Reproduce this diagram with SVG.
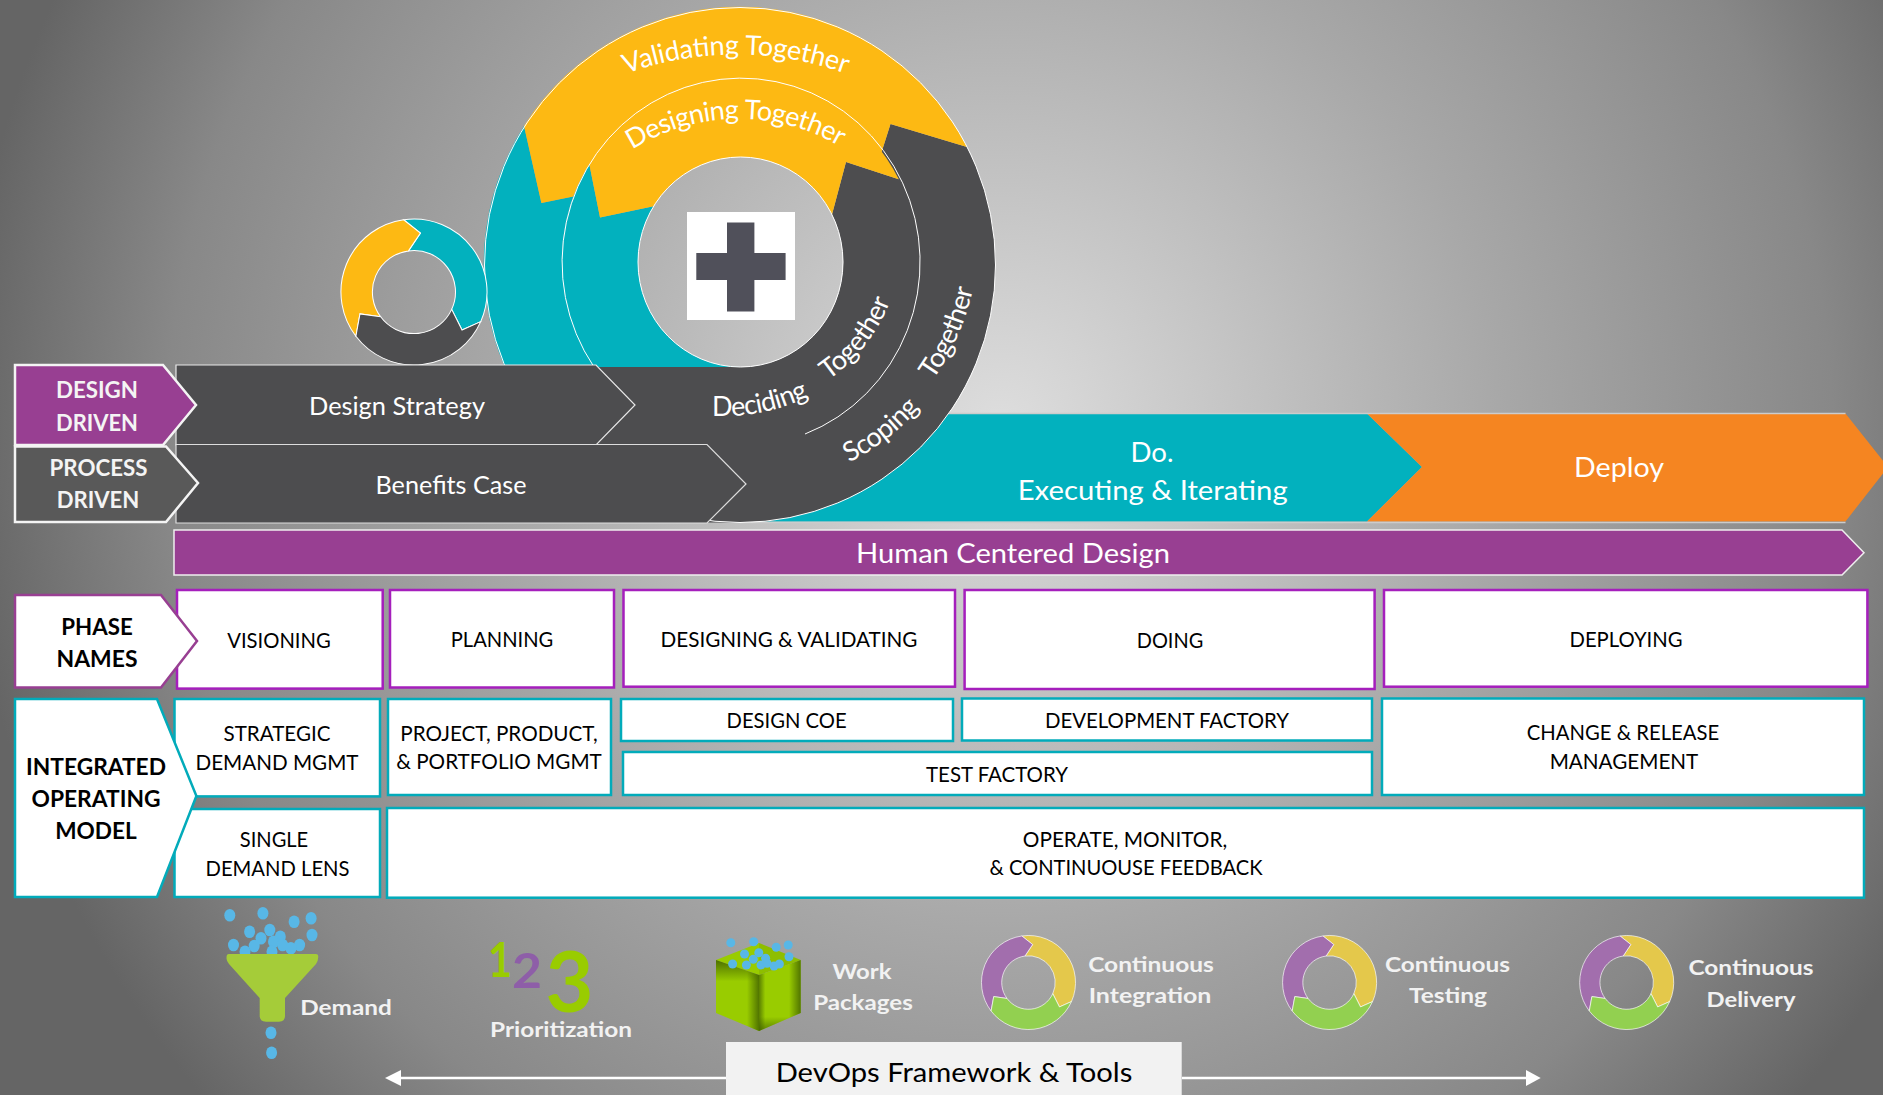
<svg xmlns="http://www.w3.org/2000/svg" width="1883" height="1095" viewBox="0 0 1883 1095">
<style>
text{font-family:Lato,"Liberation Sans",sans-serif;text-anchor:middle}
.w{fill:#fff;font-size:25px}
.wb{fill:#f4f4f4;font-size:22px;font-weight:700}
.kb{fill:#000;font-size:22px;font-weight:700}
.k{fill:#000;font-size:21px}
.big{fill:#fff;font-size:27px}
.ic{fill:#f2f2f2;font-size:21px;font-weight:700}
.arc{fill:#fff;font-size:27px}
.pb{fill:#fff;stroke:#a51fbc;stroke-width:2.5}
.tb{fill:#fff;stroke:#02abba;stroke-width:2.5}
.dark{fill:#4d4d4f}
.teal{fill:#02b1be}
.yel{fill:#fdb913}
.ln{fill:none;stroke:#fff;stroke-width:1}
.dot{fill:#58b7e6}
.och{fill:#e4c84b}
.vio{fill:#a26ead}
.grn{fill:#92d050}
.seg{stroke:#fff;stroke-width:1.4}
</style>
<defs>
<radialGradient id="bg" gradientUnits="userSpaceOnUse" cx="1000" cy="430" r="1040">
<stop offset="0" stop-color="#dedede"/><stop offset=".48" stop-color="#a8a8a8"/><stop offset=".8" stop-color="#888"/><stop offset="1" stop-color="#656565"/>
</radialGradient>
<linearGradient id="shT" x1="0" y1="0" x2="0" y2="1"><stop offset="0" stop-color="#3f5f00" stop-opacity=".85"/><stop offset=".3" stop-color="#3f5f00" stop-opacity="0"/></linearGradient>
<linearGradient id="shR" x1="0" y1="0" x2="1" y2="0"><stop offset=".72" stop-color="#3f5f00" stop-opacity="0"/><stop offset="1" stop-color="#3f5f00" stop-opacity=".8"/></linearGradient>
<linearGradient id="shL" x1="0" y1="0" x2="1" y2="0"><stop offset="0" stop-color="#3f5f00" stop-opacity=".7"/><stop offset=".15" stop-color="#3f5f00" stop-opacity="0"/></linearGradient>
<linearGradient id="shB" x1="0" y1="0" x2="0" y2="1"><stop offset=".8" stop-color="#3f5f00" stop-opacity="0"/><stop offset="1" stop-color="#3f5f00" stop-opacity=".7"/></linearGradient>
<path id="sr" d="M-14.2-99A100 100 0 0 1 91.4 40.6L65.8 52 51.6 23.8A56.8 56.8 0 0 0-7.6-56.3L8.8-80.8Z"/>
<path id="sl" d="M-14.2-99A100 100 0 0 0-79.6 60.6L-74 30-45.7 34A56.8 56.8 0 0 1-7.6-56.3L8.8-80.8Z"/>
<path id="sb" d="M-79.6 60.6A100 100 0 0 0 91.4 40.6L65.8 52 51.6 23.8A56.8 56.8 0 0 1-45.7 34L-74 30Z"/>
<path id="p1" d="M615 78A323 323 0 0 1 857 78"/>
<path id="p2" d="M620 158A200 200 0 0 1 852 154"/>
<path id="p3" d="M711 416A200 200 0 0 0 810 396"/>
<path id="p4" d="M824 383A170 170 0 0 0 892 296"/>
<path id="p5" d="M846 464A230 230 0 0 0 922 405"/>
<path id="p6" d="M930 384A250 250 0 0 0 974 284"/>
</defs>
<rect width="1883" height="1095" fill="url(#bg)"/>

<g id="do-deploy">
<path d="M800 413.5H1367L1422 467 1367 521.5H760Z" class="teal"/>
<path d="M1367 413.500H1845.500L1888 467 1845.500 521.500H1367L1422 467Z" fill="#f58521"/>
<path d="M800 413.500H1845.500M740 522.500H1845.500" fill="none" stroke="#ccc" stroke-width="1.5"/>
<text class="big" x="1152" y="461.7" textLength="43" lengthAdjust="spacingAndGlyphs">Do.</text>
<text class="big" x="1152.7" y="500" textLength="270" lengthAdjust="spacingAndGlyphs">Executing &amp; Iterating</text>
<text class="big" x="1619" y="477" textLength="90" lengthAdjust="spacingAndGlyphs">Deploy</text>
</g>

<g id="spiral">
<path class="teal" d="M524 126A255.500 257.500 0 0 0 504.300 366H594A179 184 0 0 1 573.200 196.500L541.400 203Z"/>
<path class="teal" d="M589.200 163.800A179 184 0 0 0 594 367H740.500A102.500 105 0 0 1 653.600 206.300L600 217.600Z"/>
<path class="dark" d="M881.500 152.300L890.500 124 967 147A255.500 257.500 0 0 1 740 522.500H600L594 367H740.500A102.500 105 0 0 0 832 214.500L846 162 898.700 179.200Z"/>
<path class="yel" d="M524 126A255.500 257.500 0 0 1 967 147L890.500 124 881.500 152.300A179 184 0 0 0 573.200 196.500L541.400 203Z"/>
<path class="yel" d="M589.200 163.800A179 184 0 0 1 898.700 179.200L846 162 832 214.500A102.500 105 0 0 0 653.600 206.300L600 217.600Z"/>
<ellipse class="ln" cx="740" cy="265" rx="255.500" ry="257.500"/>
<path class="ln" d="M594 367A179 184 0 1 1 805 434"/>
<ellipse class="ln" cx="740.500" cy="262" rx="102.500" ry="105"/>
<rect x="687" y="212" width="108" height="108" fill="#fff"/>
<path d="M727 222.500H754.400V253H785.600V280H754.400V311.600H727V280H696.300V253H727Z" fill="#50505a"/>
<text class="arc"><textPath href="#p1" startOffset="50%" textLength="224">Validating Together</textPath></text>
<text class="arc"><textPath href="#p2" startOffset="50%" textLength="218">Designing Together</textPath></text>
<text class="arc"><textPath href="#p3" startOffset="50%" textLength="100">Deciding</textPath></text>
<text class="arc"><textPath href="#p4" startOffset="50%" textLength="102">Together</textPath></text>
<text class="arc"><textPath href="#p5" startOffset="50%" textLength="90">Scoping</textPath></text>
<text class="arc"><textPath href="#p6" startOffset="50%" textLength="100">Together</textPath></text>
</g>

<g id="small-cycle" transform="translate(414 292) scale(.73)">
<use href="#sr" class="teal seg"/><use href="#sl" class="yel seg"/><use href="#sb" class="dark seg"/>
</g>

<g id="design-strategy">
<path class="dark" stroke="#e8e8e8" stroke-width="1.2" d="M176 365H596L635 405 596 445H176Z"/>
<text class="w" x="397" y="415" textLength="176" lengthAdjust="spacingAndGlyphs">Design Strategy</text>
</g>
<g id="benefits-case">
<path class="dark" stroke="#ddd" stroke-width="1.2" d="M176 444.500H707L746 484 707 523H176Z"/>
<text class="w" x="451" y="493.6" textLength="151" lengthAdjust="spacingAndGlyphs">Benefits Case</text>
</g>

<g id="design-driven">
<path fill="#983f92" stroke="#f4f4f4" stroke-width="2.5" d="M15 365H163L196 405 163 445H15Z"/>
<text class="wb" x="97" y="398" textLength="82" lengthAdjust="spacingAndGlyphs">DESIGN</text>
<text class="wb" x="97" y="430.7" textLength="82" lengthAdjust="spacingAndGlyphs">DRIVEN</text>
</g>
<g id="process-driven">
<path fill="#595959" stroke="#f4f4f4" stroke-width="2.5" d="M15 446.500H166L198 483 166 522H15Z"/>
<text class="wb" x="98.5" y="475.7" textLength="98" lengthAdjust="spacingAndGlyphs">PROCESS</text>
<text class="wb" x="98" y="507.5" textLength="82.6" lengthAdjust="spacingAndGlyphs">DRIVEN</text>
</g>

<g id="human-centered">
<path fill="#983f92" stroke="#eee" stroke-width="1.5" d="M174 530H1842L1864 552.700 1842 575H174Z"/>
<text class="big" x="1013" y="563" textLength="314" lengthAdjust="spacingAndGlyphs">Human Centered Design</text>
</g>

<g id="visioning"><rect class="pb" x="177" y="590" width="205.700" height="98.600"/><text class="k" x="279" y="648" textLength="103.600" lengthAdjust="spacingAndGlyphs">VISIONING</text></g>
<g id="planning"><rect class="pb" x="390" y="590" width="224" height="97.500"/><text class="k" x="502" y="647" textLength="102.500" lengthAdjust="spacingAndGlyphs">PLANNING</text></g>
<g id="designing"><rect class="pb" x="623.500" y="590" width="331.500" height="96.700"/><text class="k" x="789" y="647" textLength="257" lengthAdjust="spacingAndGlyphs">DESIGNING &amp; VALIDATING</text></g>
<g id="doing"><rect class="pb" x="964.600" y="590" width="410" height="99"/><text class="k" x="1170" y="648" textLength="66.500" lengthAdjust="spacingAndGlyphs">DOING</text></g>
<g id="deploying"><rect class="pb" x="1384" y="590" width="483.400" height="96.700"/><text class="k" x="1626" y="647" textLength="113" lengthAdjust="spacingAndGlyphs">DEPLOYING</text></g>

<g id="phase-names">
<path fill="#fff" stroke="#983f92" stroke-width="2.5" d="M15 595H161L197 641 161 687.500H15Z"/>
<text class="kb" x="97" y="634.6" textLength="71.400" lengthAdjust="spacingAndGlyphs">PHASE</text>
<text class="kb" x="97" y="666.8" textLength="81" lengthAdjust="spacingAndGlyphs">NAMES</text>
</g>

<g id="strategic"><rect class="tb" x="174.500" y="699" width="205.500" height="97.400"/><text class="k" x="277" y="741" textLength="107" lengthAdjust="spacingAndGlyphs">STRATEGIC</text><text class="k" x="277" y="770" textLength="163" lengthAdjust="spacingAndGlyphs">DEMAND MGMT</text></g>
<g id="single"><rect class="tb" x="174.500" y="809" width="205.500" height="88"/><text class="k" x="274" y="846.8" textLength="68.400" lengthAdjust="spacingAndGlyphs">SINGLE</text><text class="k" x="277.500" y="876" textLength="144" lengthAdjust="spacingAndGlyphs">DEMAND LENS</text></g>
<g id="project"><rect class="tb" x="388" y="699" width="223" height="96"/><text class="k" x="499" y="741" textLength="197.500" lengthAdjust="spacingAndGlyphs">PROJECT, PRODUCT,</text><text class="k" x="499" y="769" textLength="205.600" lengthAdjust="spacingAndGlyphs">&amp; PORTFOLIO MGMT</text></g>
<g id="design-coe"><rect class="tb" x="621" y="699" width="332" height="42"/><text class="k" x="786.6" y="728" textLength="120" lengthAdjust="spacingAndGlyphs">DESIGN COE</text></g>
<g id="dev-factory"><rect class="tb" x="962" y="698.500" width="410" height="42"/><text class="k" x="1167" y="727.7" textLength="244" lengthAdjust="spacingAndGlyphs">DEVELOPMENT FACTORY</text></g>
<g id="test-factory"><rect class="tb" x="623" y="752" width="749" height="43"/><text class="k" x="997" y="781.7" textLength="142" lengthAdjust="spacingAndGlyphs">TEST FACTORY</text></g>
<g id="change"><rect class="tb" x="1382" y="698.500" width="482" height="96.500"/><text class="k" x="1623" y="740" textLength="192.500" lengthAdjust="spacingAndGlyphs">CHANGE &amp; RELEASE</text><text class="k" x="1624" y="769" textLength="148.600" lengthAdjust="spacingAndGlyphs">MANAGEMENT</text></g>
<g id="operate"><rect class="tb" x="387" y="808" width="1477" height="89.700"/><text class="k" x="1125" y="847" textLength="204.400" lengthAdjust="spacingAndGlyphs">OPERATE, MONITOR,</text><text class="k" x="1126" y="875" textLength="273" lengthAdjust="spacingAndGlyphs">&amp; CONTINUOUSE FEEDBACK</text></g>

<g id="integrated-model">
<path fill="#fff" stroke="#02abba" stroke-width="2.5" d="M15 699H157L196.400 796 157 897H15Z"/>
<text class="kb" x="96" y="774.6" textLength="140" lengthAdjust="spacingAndGlyphs">INTEGRATED</text>
<text class="kb" x="96" y="806.8" textLength="129" lengthAdjust="spacingAndGlyphs">OPERATING</text>
<text class="kb" x="96" y="839" textLength="81.600" lengthAdjust="spacingAndGlyphs">MODEL</text>
</g>

<g id="demand">
<g class="dot">
<ellipse cx="229.800" cy="915.300" rx="5.500" ry="6.300"/><ellipse cx="262.900" cy="913.300" rx="5.500" ry="6.300"/><ellipse cx="294.100" cy="921.700" rx="5.500" ry="6.300"/><ellipse cx="311.100" cy="918.300" rx="5.500" ry="6.300"/><ellipse cx="312" cy="935" rx="5.500" ry="6.300"/><ellipse cx="249.600" cy="931.700" rx="5.500" ry="6.300"/><ellipse cx="269.800" cy="930" rx="5.500" ry="6.300"/><ellipse cx="261" cy="938.300" rx="5.500" ry="6.300"/><ellipse cx="280.300" cy="936.700" rx="5.500" ry="6.300"/><ellipse cx="233.500" cy="945" rx="5.500" ry="6.300"/><ellipse cx="254.200" cy="946" rx="5.500" ry="6.300"/><ellipse cx="273.500" cy="941.700" rx="5.500" ry="6.300"/><ellipse cx="282.600" cy="945" rx="5.500" ry="6.300"/><ellipse cx="299.600" cy="945" rx="5.500" ry="6.300"/><ellipse cx="290.900" cy="948.300" rx="5.500" ry="6.300"/><ellipse cx="245" cy="951.700" rx="5.500" ry="6.300"/><ellipse cx="272" cy="951.700" rx="5.500" ry="6.300"/><ellipse cx="271" cy="1032.700" rx="5.500" ry="6.300"/><ellipse cx="271.600" cy="1052.700" rx="5.500" ry="6.300"/>
</g>
<path fill="#a5cc39" d="M229 954H316Q319 954 318 959Q318 961 316 964L285 998V1016Q285 1021.700 279 1021.700H266Q259.700 1021.700 259.700 1016V998L229 964Q226.600 961 226.600 959Q226 954 229 954Z"/>
<text class="ic" x="346" y="1015" textLength="91.500" lengthAdjust="spacingAndGlyphs">Demand</text>
</g>

<g id="prioritization">
<text x="500" y="977" font-size="47" font-weight="700" fill="#99cc00" textLength="24" lengthAdjust="spacingAndGlyphs">1</text>
<text x="527" y="987.700" font-size="48" font-weight="700" fill="#8e5ea8" textLength="30" lengthAdjust="spacingAndGlyphs">2</text>
<text x="569.500" y="1012" font-size="85" font-weight="700" fill="#99cc00" textLength="48" lengthAdjust="spacingAndGlyphs">3</text>
<text class="ic" x="561" y="1036.7" textLength="142" lengthAdjust="spacingAndGlyphs">Prioritization</text>
</g>

<g id="work-packages">
<path fill="#99cc00" d="M759 943L800.700 960 759 975 716 960Z"/>
<path fill="#6f9400" d="M759 943V975L800.700 960Z" opacity=".25"/>
<path fill="#99cc00" d="M716 960L759 975V1031L716 1013Z"/>
<path fill="url(#shT)" d="M716 960L759 975V1031L716 1013Z"/>
<path fill="url(#shR)" d="M716 960L759 975V1031L716 1013Z"/>
<path fill="#99cc00" d="M759 975L800.700 960V1013L759 1031Z"/>
<path fill="url(#shL)" d="M759 975L800.700 960V1013L759 1031Z"/>
<path fill="url(#shR)" d="M759 975L800.700 960V1013L759 1031Z"/>
<path fill="url(#shB)" d="M759 975L800.700 960V1013L759 1031Z"/>
<g class="dot">
<circle cx="730.800" cy="942.700" r="4.500"/><circle cx="753.700" cy="941.700" r="4.500"/><circle cx="776.200" cy="947.300" r="4.500"/><circle cx="788.200" cy="945" r="4.500"/><circle cx="789" cy="956.700" r="4.500"/><circle cx="744.500" cy="954" r="4.500"/><circle cx="758.800" cy="952.700" r="4.500"/><circle cx="753.300" cy="959.300" r="4.500"/><circle cx="765.600" cy="958.300" r="4.500"/><circle cx="732.600" cy="964" r="4.500"/><circle cx="746.400" cy="965" r="4.500"/><circle cx="761" cy="965" r="4.500"/><circle cx="767" cy="963.300" r="4.500"/><circle cx="779.400" cy="964" r="4.500"/><circle cx="774" cy="966" r="4.500"/>
</g>
<text class="ic" x="862" y="978.700" textLength="59" lengthAdjust="spacingAndGlyphs">Work</text>
<text class="ic" x="863" y="1010" textLength="99.600" lengthAdjust="spacingAndGlyphs">Packages</text>
</g>

<g id="ci">
<g transform="translate(1028.500 982.500) scale(.47)"><use href="#sr" class="och seg"/><use href="#sl" class="vio seg"/><use href="#sb" class="grn seg"/></g>
<text class="ic" x="1151" y="971.700" textLength="125.700" lengthAdjust="spacingAndGlyphs">Continuous</text>
<text class="ic" x="1150" y="1003" textLength="122.700" lengthAdjust="spacingAndGlyphs">Integration</text>
</g>
<g id="ct">
<g transform="translate(1329.600 982.500) scale(.47)"><use href="#sr" class="och seg"/><use href="#sl" class="vio seg"/><use href="#sb" class="grn seg"/></g>
<text class="ic" x="1447.500" y="971.700" textLength="125" lengthAdjust="spacingAndGlyphs">Continuous</text>
<text class="ic" x="1448" y="1003" textLength="78" lengthAdjust="spacingAndGlyphs">Testing</text>
</g>
<g id="cd">
<g transform="translate(1626.700 982.500) scale(.47)"><use href="#sr" class="och seg"/><use href="#sl" class="vio seg"/><use href="#sb" class="grn seg"/></g>
<text class="ic" x="1751" y="975" textLength="125" lengthAdjust="spacingAndGlyphs">Continuous</text>
<text class="ic" x="1751" y="1006.700" textLength="89" lengthAdjust="spacingAndGlyphs">Delivery</text>
</g>

<g id="connectors">
<path d="M726 1078H396M1182 1078H1530" stroke="#fff" stroke-width="2.5" fill="none"/>
<path d="M385 1078L401 1070V1086Z" fill="#fff"/>
<path d="M1540.700 1078L1526 1070V1086Z" fill="#fff"/>
</g>

<g id="devops">
<rect x="726" y="1042" width="455.700" height="53" fill="#f2f2f2"/>
<text x="954" y="1082" font-size="26.500" fill="#000" textLength="356.700" lengthAdjust="spacingAndGlyphs">DevOps Framework &amp; Tools</text>
</g>
</svg>
